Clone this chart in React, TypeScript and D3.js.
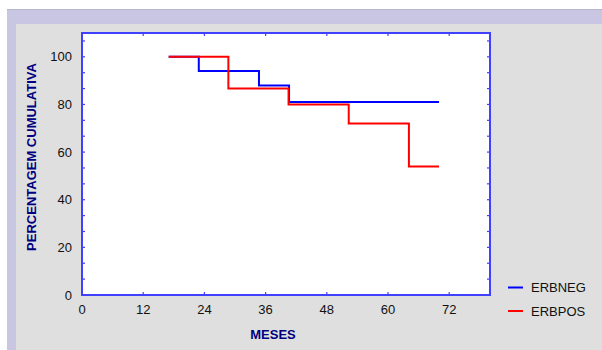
import React from 'react';
import * as d3 from 'd3';

// survival steps (months, cumulative %)
const erbnegMonths = [17, 22.9, 34.7, 40.6, 70];
const erbnegValues = [100, 94, 88, 81, 81];
const erbposMonths = [17, 28.7, 40.5, 52.3, 64.1, 70];
const erbposValues = [100, 86.7, 80, 72, 54, 54];

const xTicks = [0, 12, 24, 36, 48, 60, 72];
const yLabels = [0, 20, 40, 60, 80, 100];
const yMinorTicks = d3.range(0, 17).map((i) => (i * 20) / 3);

const seriesNames = ['ERBNEG', 'ERBPOS'];
const seriesColors = ['#0000ff', '#ff0000'];

const W = 602;
const H = 350;
const left = 82;
const right = 490;
const top = 33;
const bottom = 295;

export default function App() {
  const x = d3.scaleLinear().domain([0, 80]).range([left, right]);
  const y = d3.scaleLinear().domain([0, 110]).range([bottom, top]);

  const line = d3
    .line<[number, number]>()
    .x((d) => x(d[0]))
    .y((d) => y(d[1]))
    .curve(d3.curveStepAfter);

  const negData: [number, number][] = erbnegMonths.map((m, i) => [m, erbnegValues[i]]);
  const posData: [number, number][] = erbposMonths.map((m, i) => [m, erbposValues[i]]);

  const frame = '#4040ff';
  const font = '"Liberation Sans", Arial, sans-serif';

  return (
    <svg
      width={W}
      height={H}
      style={{ position: 'absolute', left: 0, top: 0 }}
      fontFamily={font}
    >
      <rect x={0} y={0} width={W} height={H} fill="#ffffff" />
      <rect x={7} y={9} width={W - 7} height={H - 9} fill="#c8c6e2" />
      <line x1={7} x2={W} y1={9.5} y2={9.5} stroke="#b8b6cc" strokeWidth={1} />
      <rect x={16} y={24} width={W - 16} height={H - 24} fill="#dfdfdf" />

      {/* plot area */}
      <rect x={left} y={top} width={right - left} height={bottom - top} fill="#ffffff" />

      {/* minor ticks left/right */}
      {yMinorTicks.map((t) => (
        <g key={'yt' + t}>
          <line x1={left} x2={left + 3} y1={y(t)} y2={y(t)} stroke={frame} strokeWidth={1.2} />
          <line x1={right - 3} x2={right} y1={y(t)} y2={y(t)} stroke={frame} strokeWidth={1.2} />
        </g>
      ))}
      {/* x ticks bottom/top */}
      {xTicks.map((t) => (
        <g key={'xt' + t}>
          <line x1={x(t)} x2={x(t)} y1={bottom} y2={bottom - 3} stroke={frame} strokeWidth={1.2} />
          <line x1={x(t)} x2={x(t)} y1={top} y2={top + 3} stroke={frame} strokeWidth={1.2} />
        </g>
      ))}

      {/* series: blue first, red on top */}
      <path d={line(negData) || ''} fill="none" stroke={seriesColors[0]} strokeWidth={2} />
      <path d={line(posData) || ''} fill="none" stroke={seriesColors[1]} strokeWidth={2} />

      <rect
        x={left}
        y={top}
        width={right - left}
        height={bottom - top}
        fill="none"
        stroke={frame}
        strokeWidth={2}
      />

      {/* tick labels */}
      {yLabels.map((t) => (
        <text key={'yl' + t} x={72} y={y(t) + 4.5} textAnchor="end" fontSize={13} fill="#111">
          {t}
        </text>
      ))}
      {xTicks.map((t) => (
        <text key={'xl' + t} x={x(t)} y={314} textAnchor="middle" fontSize={13} fill="#111">
          {t}
        </text>
      ))}

      {/* axis titles */}
      <text x={273} y={339} textAnchor="middle" fontSize={13} fontWeight="bold" fill="#000080">
        MESES
      </text>
      <text
        transform="translate(36,157) rotate(-90)"
        textAnchor="middle"
        fontSize={13}
        fontWeight="bold"
        fill="#000080"
      >
        PERCENTAGEM CUMULATIVA
      </text>

      {/* legend */}
      {seriesNames.map((n, i) => (
        <g key={n} transform={`translate(508,${287.5 + i * 23.5})`}>
          <line x1={0} x2={15} y1={0} y2={0} stroke={seriesColors[i]} strokeWidth={2} />
          <text x={23} y={4.7} fontSize={13} fill="#111">
            {n}
          </text>
        </g>
      ))}
    </svg>
  );
}
